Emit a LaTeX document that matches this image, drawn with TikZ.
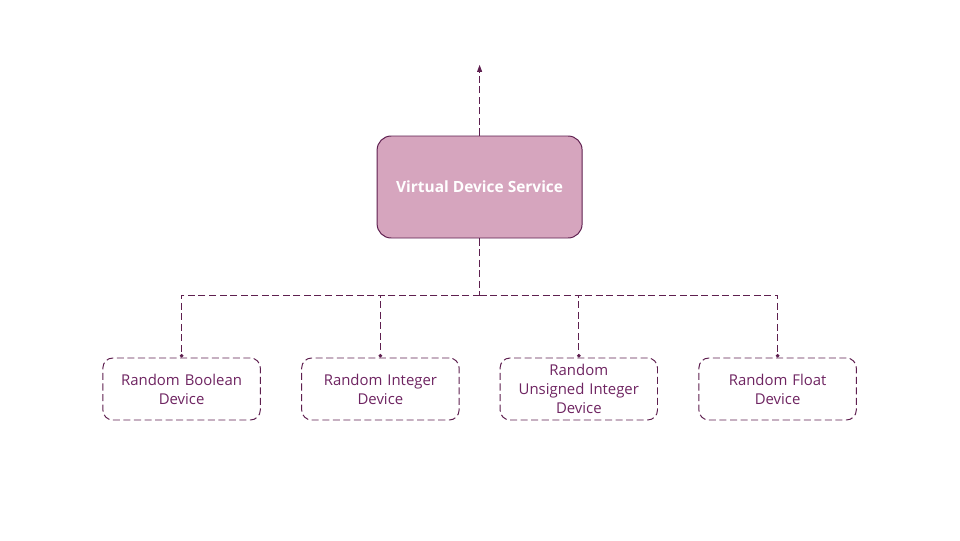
\documentclass[tikz,border=0pt]{standalone}
\usepackage{fontspec}
\setmainfont{Open Sans}
\usepackage{xcolor}
\usetikzlibrary{arrows.meta, positioning}
\definecolor{plum}{HTML}{5E1F4F}
\definecolor{plumtext}{HTML}{6E2461}
\definecolor{plumfill}{HTML}{D6A5BE}
\tikzset{
    service/.style={draw=plum, fill=plumfill, line width=0.7pt, rounded corners=10pt,
        minimum width=5.125cm, minimum height=2.55cm, text=white,
        font=\fontsize{11}{13}\selectfont\bfseries},
    device/.style={draw=plum, dash pattern=on 5pt off 2.5pt, line width=0.7pt, rounded corners=7pt,
        minimum width=3.875cm, minimum height=1.55cm, text width=3.7cm, align=center,
        text=plumtext, font=\fontsize{10.6}{13.5}\selectfont},
    link/.style={draw=plum, line width=0.7pt, dash pattern=on 5pt off 2.5pt},
    dot/.style={-{Circle[length=2.5pt]}},
    up/.style={-{Triangle[length=5pt, width=3.5pt]}}
}

\begin{document}
\begin{tikzpicture}
    \useasboundingbox (0,0) rectangle (24,13.5);
    % Service box and its outgoing arrow
    \node[service] (svc) at (11.99,8.825) {Virtual Device Service};
    \coordinate (top) at (11.99,11.88);
    \draw[link, up] (svc.north) -- (top);
    % Bus below the service
    \coordinate (bus) at (11.99,6.125);
    \draw[link] (svc.south) -- (bus);
    % Devices
    \node[device] (bool) at (4.54,3.775) {Random Boolean\\Device};
    \node[device] (int) at (9.51,3.775) {Random Integer\\Device};
    \node[device] (uint) at (14.47,3.775) {Random\\Unsigned Integer\\Device};
    \node[device] (flt) at (19.44,3.775) {Random Float\\Device};
    % Links to the devices
    \foreach \dev in {bool, int, uint, flt}
        \draw[link, dot] (bus) -| (\dev.north);
\end{tikzpicture}
\end{document}
